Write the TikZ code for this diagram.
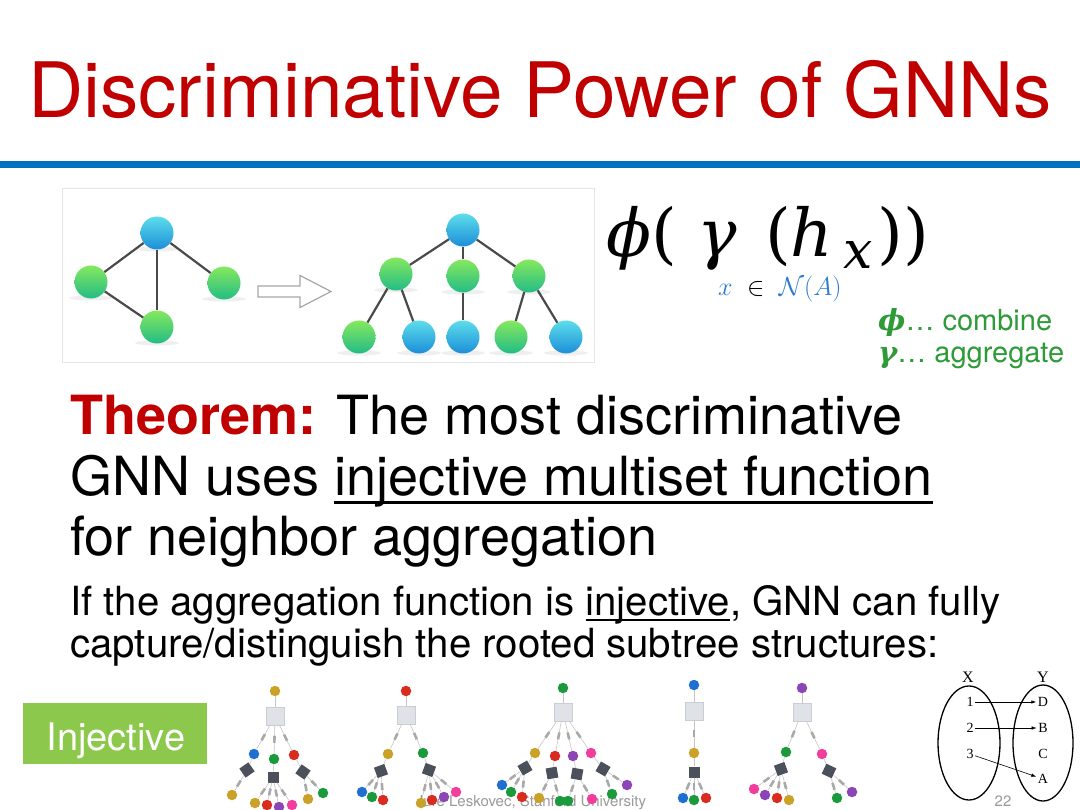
\RequirePackage{fix-cm}
\documentclass[tikz,border=0pt]{standalone}
\usepackage{amsmath}
\usepackage{fontspec}
\setmainfont{TeX Gyre Heros}
\newfontfamily\mapfont{Liberation Serif}
\newfontfamily\fmfont{DejaVu Serif}
\usetikzlibrary{arrows.meta}

\definecolor{titlered}{HTML}{C00000}
\definecolor{rulblue}{HTML}{0070C0}
\definecolor{fblue}{HTML}{2E7BD0}
\definecolor{fgreen}{HTML}{2E9A38}
\definecolor{injgreen}{HTML}{8CC84B}
\definecolor{ballg1}{HTML}{86E85E}
\definecolor{ballg2}{HTML}{22BC86}
\definecolor{ballb1}{HTML}{5CDDEB}
\definecolor{ballb2}{HTML}{1C8ED8}
\definecolor{edgedark}{HTML}{4A4A4A}
\definecolor{aggfill}{HTML}{DFE2E6}
\definecolor{aggline}{HTML}{C9CED4}
\definecolor{mlpfill}{HTML}{4B505A}
\definecolor{tickgray}{HTML}{A9A9A9}
\definecolor{footgray}{HTML}{9A9A9A}
\definecolor{cgold}{HTML}{C9A227}
\definecolor{cred}{HTML}{D92B1E}
\definecolor{cgreen}{HTML}{1A9A3B}
\definecolor{cblue}{HTML}{1F6FD0}
\definecolor{cpurple}{HTML}{8B45B5}
\definecolor{cpink}{HTML}{F23D9C}

% underline drawn low, through the descenders
\newcommand{\ulin}[1]{\setbox0\hbox{#1}\rlap{\rule[-0.14em]{\wd0}{0.04em}}\box0}

\tikzset{
  txt/.style={anchor=base west, inner sep=0},
  gball/.style={circle, inner sep=0, minimum size=33pt, top color=ballg1, bottom color=ballg2},
  bball/.style={circle, inner sep=0, minimum size=33pt, top color=ballb1, bottom color=ballb2},
  gedge/.style={draw=edgedark, line width=2.2pt},
  tdot/.style={circle, inner sep=0, minimum size=10.5pt},
  aggbox/.style={fill=aggfill, draw=aggline, line width=0.4pt, minimum size=18pt, inner sep=0},
  mlpbox/.style={fill=mlpfill, minimum size=11pt, inner sep=0},
  tedge/.style={draw=gray!45, line width=0.6pt},
  edgetick/.style={fill=tickgray, minimum width=7pt, minimum height=2.6pt, inner sep=0, sloped},
  maparrow/.style={-{Latex[length=5pt, width=3.5pt]}, line width=0.6pt},
}

\begin{document}
\begin{tikzpicture}[x=1pt, y=-1pt]
	\useasboundingbox[fill=white] (0,0) rectangle (1080,810);
	
	% Title
	\node[txt, text=titlered, font=\fontsize{76.5}{76.5}\selectfont] (title) at (28,118) {Discriminative Power of GNNs};
	\fill[rulblue] (0,161) rectangle (1080,168);
	
	% Graph and its unrolled tree
	\draw[draw=gray!20, fill=white] (62,188) rectangle (594,362);
	\foreach \x/\y in {157/233, 91/282, 224/283, 157/327, 396/274, 463/276, 529/276, 359/337, 419/337, 463/337, 511/337, 566/337}
		\fill[gray, opacity=0.12] (\x,\y+16) ellipse [x radius=22, y radius=2.5];
	\node[bball] (g0) at (157,233) {};
	\node[gball] (g1) at (91,282) {};
	\node[gball] (g2) at (224,283) {};
	\node[gball] (g3) at (157,327) {};
	\draw[gedge] (g0) -- (g1);
	\draw[gedge] (g0) -- (g2);
	\draw[gedge] (g0) -- (g3);
	\draw[gedge] (g1) -- (g3);
	\draw[draw=gray!70, line width=1.2pt, fill=white] (258,286) -- (300,286) -- (300,275.5) -- (331,291.5) -- (300,307.5) -- (300,297) -- (258,297) -- cycle;
	\node[bball] (u0) at (463,230) {};
	\node[gball] (u1) at (396,274) {};
	\node[gball] (u2) at (463,276) {};
	\node[gball] (u3) at (529,276) {};
	\node[gball] (u4) at (359,337) {};
	\node[bball] (u5) at (419,337) {};
	\node[bball] (u6) at (463,337) {};
	\node[gball] (u7) at (511,337) {};
	\node[bball] (u8) at (566,337) {};
	\foreach \k in {1,2,3} \draw[gedge] (u0) -- (u\k);
	\draw[gedge] (u1) -- (u4);
	\draw[gedge] (u1) -- (u5);
	\draw[gedge] (u2) -- (u6);
	\draw[gedge] (u3) -- (u7);
	\draw[gedge] (u3) -- (u8);
	
	% Update formula
	\node[txt, font=\fmfont\fontsize{66}{66}\selectfont] (phi) at (606,257) {\textit{ϕ}(};
	\node[txt, font=\fmfont\fontsize{66}{66}\selectfont] (gam) at (697,257) {\textit{γ}};
	\node[txt, font=\fmfont\fontsize{66}{66}\selectfont] (hx) at (765,257) {(\textit{h}\kern10pt\raisebox{-0.18em}{\fontsize{52}{52}\selectfont\textit{x}}\kern5pt))};
	\node[txt, font=\fontsize{26}{26}\selectfont] (sub) at (718,296) {$\textcolor{fblue}{x}\;\in\;\textcolor{fblue}{\mathcal{N}(A)}$};
	\node[txt, text=fgreen, font=\fontsize{29}{29}\selectfont] (comb) at (878,331) {{\fmfont\bfseries\itshape ϕ}\ldots{} combine};
	\node[txt, text=fgreen, font=\fontsize{29}{29}\selectfont] (aggr) at (878,363) {{\fmfont\bfseries\itshape γ}\ldots{} aggregate};
	
	% Theorem
	\node[txt, font=\fontsize{54}{54}\selectfont] (thm1) at (70,435) {\textcolor{titlered}{\bfseries Theorem:} The most discriminative};
	\node[txt, font=\fontsize{54}{54}\selectfont] (thm2) at (70,496) {GNN uses \ulin{injective multiset function}};
	\node[txt, font=\fontsize{54}{54}\selectfont] (thm3) at (70,555) {for neighbor aggregation};
	\node[txt, font=\fontsize{40.2}{40.2}\selectfont] (cap1) at (70,615) {If the aggregation function is \ulin{injective}, GNN can fully};
	\node[txt, font=\fontsize{40.2}{40.2}\selectfont] (cap2) at (70,657) {capture/distinguish the rooted subtree structures:};
	
	% Footer
	\node[txt, anchor=base, text=footgray, font=\fontsize{15}{15}\selectfont] (foot) at (531,806) {Jure Leskovec, Stanford University};
	\node[txt, anchor=base, text=footgray, font=\fontsize{15}{15}\selectfont] (page) at (1003,806) {22};
	
	% Injective label
	\fill[injgreen] (23,703) rectangle (207,764);
	\node[txt, anchor=base, text=white, font=\fontsize{38}{38}\selectfont] (inj) at (116,750) {Injective};
	
	% Tree 1
	\node[tdot, fill=cgold] (t1r) at (275,691) {};
	\node[aggbox] (t1a) at (275,716) {};
	\node[tdot, fill=cblue] (t1c1) at (254,754) {};
	\node[tdot, fill=cgreen] (t1c2) at (274,759) {};
	\node[tdot, fill=cred] (t1c3) at (294,755) {};
	\node[mlpbox, rotate=35] (t1m1) at (247,770) {};
	\node[mlpbox] (t1m2) at (273,777) {};
	\node[mlpbox, rotate=-35] (t1m3) at (303,772) {};
	\draw[tedge] (t1a) -- (t1r);
	\foreach \i in {1,2,3} {
		\draw[tedge] (t1a) -- node[edgetick] {} (t1c\i);
		\draw[tedge] (t1c\i) -- (t1m\i);
	}
	\foreach \x/\y/\col/\m [count=\i] in {232/795/cgold/1, 255/803/cgold/2, 267/805/cred/2, 279/807/cpurple/2, 292/805/cpink/2, 308/799/cgold/3, 323/793/cgreen/3} {
		\node[tdot, fill=\col] (t1l\i) at (\x,\y) {};
		\draw[tedge] (t1m\m) -- node[edgetick, pos=0.55] {} (t1l\i);
	}
	
	% Tree 2
	\node[tdot, fill=cred] (t2r) at (406,691) {};
	\node[aggbox] (t2a) at (406,715) {};
	\node[tdot, fill=cgold] (t2c1) at (388,754) {};
	\node[tdot, fill=cgreen] (t2c2) at (423,753) {};
	\node[mlpbox, rotate=20] (t2m1) at (381,771) {};
	\node[mlpbox, rotate=-20] (t2m2) at (429,770) {};
	\draw[tedge] (t2a) -- (t2r);
	\foreach \i in {1,2} {
		\draw[tedge] (t2a) -- node[edgetick] {} (t2c\i);
		\draw[tedge] (t2c\i) -- (t2m\i);
	}
	\foreach \x/\y/\col/\m [count=\i] in {362/792/cblue/1, 372/797/cgreen/1, 383/800/cred/1, 421/803/cgold/2, 432/800/cred/2, 444/797/cpurple/2, 456/792/cpink/2} {
		\node[tdot, fill=\col] (t2l\i) at (\x,\y) {};
		\draw[tedge] (t2m\m) -- node[edgetick, pos=0.55] {} (t2l\i);
	}
	
	% Tree 3
	\node[tdot, fill=cgreen] (t3r) at (563,688) {};
	\node[aggbox] (t3a) at (563,712) {};
	\node[tdot, fill=cgold] (t3c1) at (535,753) {};
	\node[tdot, fill=cred] (t3c2) at (555,756) {};
	\node[tdot, fill=cpurple] (t3c3) at (573,756) {};
	\node[tdot, fill=cpink] (t3c4) at (591,753) {};
	\node[mlpbox, rotate=30] (t3m1) at (525,768) {};
	\node[mlpbox, rotate=10] (t3m2) at (552,773) {};
	\node[mlpbox, rotate=-10] (t3m3) at (577,774) {};
	\node[mlpbox, rotate=-30] (t3m4) at (603,769) {};
	\draw[tedge] (t3a) -- (t3r);
	\foreach \i in {1,...,4} {
		\draw[tedge] (t3a) -- node[edgetick] {} (t3c\i);
		\draw[tedge] (t3c\i) -- (t3m\i);
	}
	\foreach \x/\y/\col/\m [count=\i] in {502/785/cblue/1, 511/792/cgreen/1, 522/797/cred/1, 539/798/cgold/2, 560/801/cgreen/2, 568/801/cgreen/3, 592/799/cpink/3, 612/794/cgreen/4, 627/785/cpurple/4} {
		\node[tdot, fill=\col] (t3l\i) at (\x,\y) {};
		\draw[tedge] (t3m\m) -- node[edgetick, pos=0.55] {} (t3l\i);
	}
	
	% Tree 4
	\node[tdot, fill=cblue] (t4r) at (694,685) {};
	\node[aggbox] (t4a) at (694,711) {};
	\node[tdot, fill=cgold] (t4c1) at (694,753) {};
	\node[mlpbox] (t4m1) at (694,772) {};
	\draw[tedge] (t4a) -- (t4r);
	\draw[tedge] (t4a) -- node[edgetick] {} (t4c1);
	\draw[tedge] (t4c1) -- (t4m1);
	\foreach \x/\y/\col [count=\i] in {683/798/cblue, 694/800/cgreen, 706/798/cred} {
		\node[tdot, fill=\col] (t4l\i) at (\x,\y) {};
		\draw[tedge] (t4m1) -- node[edgetick, pos=0.55] {} (t4l\i);
	}
	
	% Tree 5
	\node[tdot, fill=cpurple] (t5r) at (802,688) {};
	\node[aggbox] (t5a) at (802,712) {};
	\node[tdot, fill=cgreen] (t5c1) at (786,752) {};
	\node[tdot, fill=cpink] (t5c2) at (822,754) {};
	\node[mlpbox, rotate=20] (t5m1) at (781,769) {};
	\node[mlpbox, rotate=-25] (t5m2) at (829,771) {};
	\draw[tedge] (t5a) -- (t5r);
	\foreach \i in {1,2} {
		\draw[tedge] (t5a) -- node[edgetick] {} (t5c\i);
		\draw[tedge] (t5c\i) -- (t5m\i);
	}
	\foreach \x/\y/\col/\m [count=\i] in {754/789/cpink/1, 765/795/cpurple/1, 777/798/cred/1, 789/800/cgold/1, 837/798/cgreen/2, 852/792/cpurple/2} {
		\node[tdot, fill=\col] (t5l\i) at (\x,\y) {};
		\draw[tedge] (t5m\m) -- node[edgetick, pos=0.55] {} (t5l\i);
	}
	
	% Injective map X -> Y
	\draw[line width=1.3pt] (969,743) ellipse [x radius=31, y radius=57];
	\draw[line width=1.3pt] (1043,743) ellipse [x radius=30, y radius=58];
	\begin{scope}[every node/.style={inner sep=1.5pt, font=\mapfont\fontsize{14}{14}\selectfont}]
		\node (xlab) at (968,677) {\fontsize{16}{16}\selectfont X};
		\node (ylab) at (1043,677) {\fontsize{16}{16}\selectfont Y};
		\node (n1) at (970,702) {1};
		\node (n2) at (970,728) {2};
		\node (n3) at (970,754) {3};
		\node (yd) at (1043,702) {D};
		\node (yb) at (1043,728) {B};
		\node (yc) at (1043,754) {C};
		\node (ya) at (1043,779) {A};
	\end{scope}
	\draw[maparrow] (n1) -- (yd);
	\draw[maparrow] (n2) -- (yb);
	\draw[maparrow] (n3) -- (ya);
\end{tikzpicture}
\end{document}
